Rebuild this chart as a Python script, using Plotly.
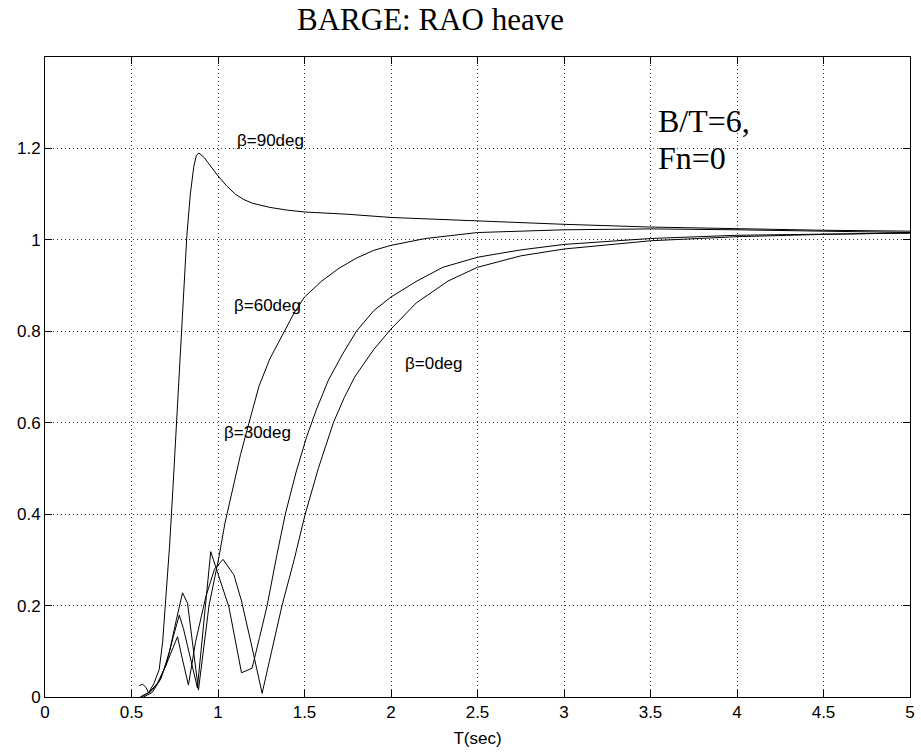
import plotly.graph_objects as go

# ---- data ----
T_90 = [0.55, 0.60, 0.63, 0.66, 0.68, 0.70, 0.72, 0.74, 0.76, 0.78, 0.80, 0.82, 0.84, 0.86,
        0.875, 0.89, 0.92, 0.96, 1.0, 1.05, 1.1, 1.15, 1.2, 1.3, 1.4, 1.5, 1.75, 2.0, 2.5,
        3.0, 3.5, 4.0, 4.5, 5.0]
V_90 = [0.0, 0.01, 0.03, 0.06, 0.12, 0.22, 0.33, 0.46, 0.60, 0.75, 0.89, 1.01, 1.10, 1.16,
        1.185, 1.19, 1.18, 1.16, 1.14, 1.118, 1.10, 1.088, 1.08, 1.071, 1.065, 1.061, 1.056,
        1.049, 1.041, 1.034, 1.028, 1.024, 1.021, 1.019]

T_60 = [0.57, 0.62, 0.67, 0.72, 0.76, 0.795, 0.824, 0.887, 0.948, 1.006, 1.04, 1.082, 1.13,
        1.178, 1.237, 1.30, 1.37, 1.44, 1.5, 1.6, 1.7, 1.8, 1.9, 2.0, 2.2, 2.5, 3.0, 3.5,
        4.0, 4.5, 5.0]
V_60 = [0.0, 0.01, 0.04, 0.10, 0.17, 0.228, 0.205, 0.015, 0.20, 0.307, 0.38, 0.452, 0.53,
        0.598, 0.68, 0.74, 0.79, 0.84, 0.875, 0.91, 0.938, 0.96, 0.977, 0.988, 1.003, 1.016,
        1.022, 1.024, 1.022, 1.019, 1.016]

T_30 = [0.56, 0.60, 0.65, 0.70, 0.74, 0.776, 0.80, 0.881, 0.958, 1.063, 1.136, 1.197, 1.24,
        1.284, 1.34, 1.389, 1.45, 1.513, 1.57, 1.638, 1.72, 1.8, 1.9, 2.0, 2.15, 2.3, 2.5,
        2.75, 3.0, 3.5, 4.0, 4.5, 5.0]
V_30 = [0.0, 0.01, 0.03, 0.07, 0.13, 0.179, 0.15, 0.02, 0.318, 0.197, 0.053, 0.063, 0.13,
        0.20, 0.31, 0.40, 0.49, 0.57, 0.63, 0.693, 0.75, 0.80, 0.845, 0.875, 0.91, 0.94, 0.962,
        0.978, 0.99, 1.003, 1.01, 1.013, 1.015]

T_0 = [0.545, 0.565, 0.585, 0.60, 0.62, 0.66, 0.70, 0.73, 0.766, 0.79, 0.829, 0.87, 0.93,
       0.98, 1.029, 1.092, 1.136, 1.19, 1.255, 1.31, 1.37, 1.44, 1.504, 1.58, 1.667, 1.73,
       1.79, 1.9, 2.0, 2.146, 2.33, 2.5, 2.75, 3.0, 3.5, 4.0, 4.5, 5.0]
V_0 = [0.025, 0.028, 0.02, 0.008, 0.015, 0.035, 0.07, 0.10, 0.132, 0.09, 0.026, 0.12, 0.22,
       0.28, 0.301, 0.267, 0.21, 0.12, 0.008, 0.10, 0.20, 0.30, 0.40, 0.50, 0.60, 0.655,
       0.70, 0.76, 0.805, 0.862, 0.91, 0.94, 0.965, 0.98, 0.998, 1.007, 1.012, 1.015]

curve_labels = ["β=90deg", "β=60deg", "β=30deg", "β=0deg"]
label_T = [1.098, 1.08, 1.023, 2.069]
label_V = [1.217, 0.857, 0.579, 0.73]

x_ticks = [0, 0.5, 1, 1.5, 2, 2.5, 3, 3.5, 4, 4.5, 5]
y_ticks = [0, 0.2, 0.4, 0.6, 0.8, 1.0, 1.2]

SANS = "Liberation Sans, Arial, sans-serif"
SERIF = "Liberation Serif, Times New Roman, serif"

fig = go.Figure()
for T, V in [(T_90, V_90), (T_60, V_60), (T_30, V_30), (T_0, V_0)]:
    fig.add_trace(go.Scatter(x=T, y=V, mode="lines",
                             line=dict(color="black", width=1), showlegend=False))

for txt, tx, ty in zip(curve_labels, label_T, label_V):
    fig.add_annotation(x=tx, y=ty, text=txt, showarrow=False, xanchor="left",
                       yanchor="middle", font=dict(family=SANS, size=17, color="black"))

fig.add_annotation(x=3.534, y=1.261, text="B/T=6,", showarrow=False, xanchor="left",
                   yanchor="middle", font=dict(family=SERIF, size=32, color="black"))
fig.add_annotation(x=3.534, y=1.178, text="Fn=0", showarrow=False, xanchor="left",
                   yanchor="middle", font=dict(family=SERIF, size=32, color="black"))

fig.add_annotation(xref="paper", yref="paper", x=0.446, y=1.058, text="BARGE: RAO heave",
                   showarrow=False, xanchor="center", yanchor="middle",
                   font=dict(family=SERIF, size=31, color="black"))

axis_common = dict(showline=True, linecolor="black", linewidth=1, mirror="ticks",
                   ticks="inside", ticklen=7, tickcolor="black",
                   showgrid=True, gridcolor="#333", griddash="1px,3px", gridwidth=1,
                   zeroline=False, tickfont=dict(family=SANS, size=17, color="black"))

fig.update_xaxes(range=[0, 5], tickvals=x_ticks,
                 title=dict(text="T(sec)", font=dict(family=SANS, size=17, color="black"), standoff=10),
                 **axis_common)
fig.update_yaxes(range=[0, 1.4], tickvals=y_ticks, **axis_common)

fig.update_layout(width=921, height=752, margin=dict(l=45, r=6, t=57, b=55),
                  plot_bgcolor="white", paper_bgcolor="white")

fig.write_html("out.html")
